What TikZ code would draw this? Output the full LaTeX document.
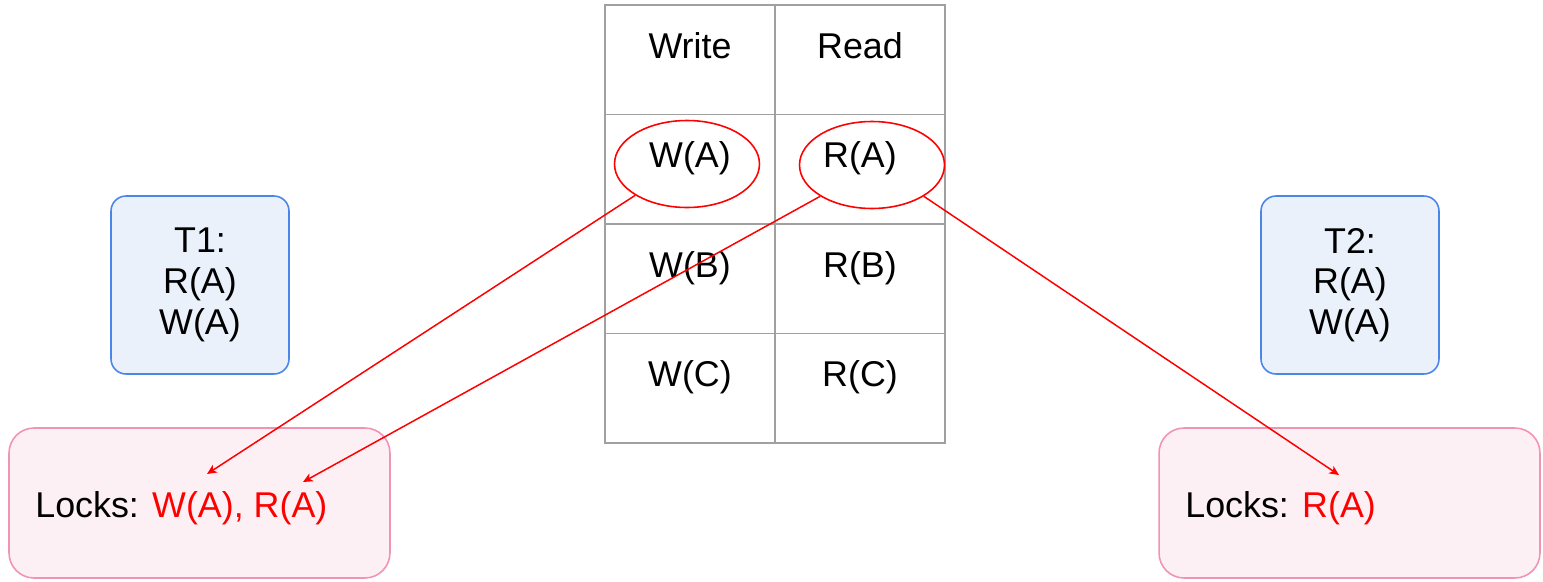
\documentclass[tikz,border=0pt]{standalone}
\usepackage{fontspec}
\setmainfont{Liberation Sans}
\usetikzlibrary{arrows.meta,positioning,calc,shapes.geometric}

\definecolor{gridgray}{HTML}{A0A0A0}
\definecolor{txborder}{HTML}{4A86E8}
\definecolor{txfill}{HTML}{EAF1FB}
\definecolor{lkborder}{HTML}{F193B2}
\definecolor{lkfill}{HTML}{FDF0F5}
\definecolor{lockred}{HTML}{FF0000}

\tikzset{
    cell/.style={draw=gridgray, line width=1.1pt, minimum width=3.4cm, minimum height=2.19cm, inner sep=0pt},
    celltext/.style={anchor=base, inner sep=0pt},
    txbox/.style={draw=txborder, fill=txfill, line width=0.9pt, rounded corners=0.3cm,
        minimum width=3.56cm, minimum height=3.56cm, align=center},
    lockbox/.style={draw=lkborder, fill=lkfill, line width=0.9pt, rounded corners=0.5cm,
        minimum width=7.62cm, minimum height=3cm},
    held/.style={draw=lockred, ellipse, line width=0.9pt, minimum width=2.9cm, minimum height=1.74cm, inner sep=0pt},
    grant/.style={-{Stealth[length=5.5pt,width=5pt,inset=1.5pt]}, lockred, line width=0.85pt}
}

\begin{document}
\begin{tikzpicture}[x=0.02cm, y=-0.02cm, font=\fontsize{20.4}{23.2}\selectfont]
    \useasboundingbox (0,0) rectangle (1543,582);

    % Lock table
    \foreach \r/\w/\rd in {0/Write/Read, 1/W(A)/R(A), 2/W(B)/R(B), 3/W(C)/R(C)} {
        \pgfmathsetmacro{\cy}{59.75+109.5*\r}
        \node[cell] (w\r) at (690,\cy) {};
        \node[cell] (r\r) at (860,\cy) {};
        \node[celltext] at ($(w\r.north)+(0,54)$) {\w};
        \node[celltext] at ($(r\r.north)+(0,54)$) {\rd};
    }

    % Held entries
    \node[held] (wA) at (687,164) {};
    \node[held] (rA) at (872,165) {};

    % Transactions
    \node[txbox] (t1) at (200,285) {T1:\\R(A)\\W(A)};
    \node[txbox] (t2) at (1350,285) {T2:\\R(A)\\W(A)};

    % Lock lists
    \node[lockbox] (locks1) at (199.5,503) {};
    \node[lockbox] (locks2) at (1349.5,503) {};
    \node[anchor=base west, inner sep=0pt] (lt1) at (35,517) {Locks: \textcolor{lockred}{W(A), R(A)}};
    \node[anchor=base west, inner sep=0pt] (lt2) at (1185,517) {Locks: \textcolor{lockred}{R(A)}};

    \coordinate (getW1) at (207,474);
    \coordinate (getR1) at (303,482);
    \coordinate (getR2) at (1339,475);

    % Grants
    \draw[grant] (wA.south west) -- (getW1);
    \draw[grant] (rA.south west) -- (getR1);
    \draw[grant] (rA.south east) -- (getR2);
\end{tikzpicture}
\end{document}
